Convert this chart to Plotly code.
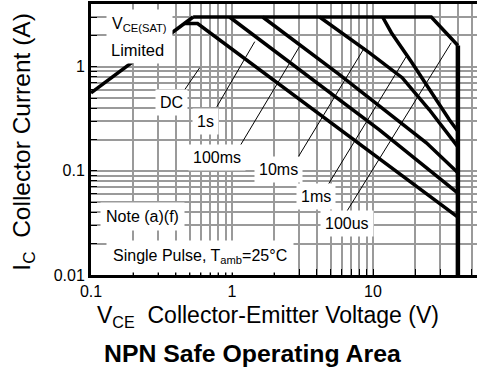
import numpy as np
import plotly.graph_objects as go

# ---- Safe operating area boundaries (VCE in V, IC in A) ----
vsat_v = [0.1, 0.53]
vsat_i = [0.56, 3.0]

dc_v = [0.46, 0.57, 40]
dc_i = [2.6, 2.6, 0.036]

s1_v = [0.96, 11.1, 40]
s1_i = [3.0, 0.248, 0.061]

ms100_v = [1.65, 5.78, 23.9, 40]
ms100_i = [3.0, 0.838, 0.186, 0.096]

ms10_v = [4.18, 9.45, 16.1, 25.1, 40]
ms10_i = [3.0, 1.36, 0.784, 0.386, 0.17]

ms1_v = [11.7, 13.5, 18.7, 34.8, 40]
ms1_i = [3.0, 2.12, 1.117, 0.309, 0.24]

us100_v = [0.53, 25.9, 40]
us100_i = [3.0, 3.0, 1.6]

bv_v = [40, 40]
bv_i = [1.6, 0.01]

# ---- curve labels and their leader lines ----
label_text = ["DC", "1s", "100ms", "10ms", "1ms", "100us"]
label_v = [0.374, 0.652, 0.78, 2.14, 3.97, 6.59]
label_i = [0.451, 0.296, 0.133, 0.102, 0.0562, 0.031]
leader_from_v = [0.462, 0.78, 1.13, 2.87, 4.75, 6.48]
leader_from_i = [0.601, 0.412, 0.170, 0.128, 0.0718, 0.0403]
leader_to_v = [0.59, 1.45, 3.01, 8.69, 17.2, 35.9]
leader_to_i = [0.978, 1.74, 1.56, 1.52, 1.25, 1.70]

# ---- axis ticks ----
x_decades = [0.1, 1, 10]
x_tick_text = ["0.1", "1", "10"]
x_max_grid = 50
y_decades = [0.01, 0.1, 1]
y_tick_text = ["0.01", "0.1", "1"]
y_max_grid = 4

FONT = "Liberation Sans, Arial, sans-serif"


def log_ticks(decades, labels, top):
    vals, text = [], []
    for d, lab in zip(decades, labels):
        for m in range(1, 10):
            v = round(m * d, 6)
            if v > top:
                break
            vals.append(v)
            text.append(lab if m == 1 else "")
    return vals, text


xt_vals, xt_text = log_ticks(x_decades, x_tick_text, x_max_grid)
yt_vals, yt_text = log_ticks(y_decades, y_tick_text, y_max_grid)

fig = go.Figure()

thick = dict(color="black", width=3.5)
for xs, ys in [(vsat_v, vsat_i), (dc_v, dc_i), (s1_v, s1_i), (ms100_v, ms100_i),
               (ms10_v, ms10_i), (ms1_v, ms1_i), (us100_v, us100_i)]:
    fig.add_trace(go.Scatter(x=xs, y=ys, mode="lines", line=thick,
                             hoverinfo="skip"))
fig.add_trace(go.Scatter(x=bv_v, y=bv_i, mode="lines",
                         line=dict(color="black", width=4.5), hoverinfo="skip"))

# thin leader lines from each label to its curve
for fv, fi, tv, ti in zip(leader_from_v, leader_from_i, leader_to_v, leader_to_i):
    fig.add_trace(go.Scatter(x=[fv, tv], y=[fi, ti], mode="lines",
                             line=dict(color="black", width=1), hoverinfo="skip"))

annotations = []
for t, v, i in zip(label_text, label_v, label_i):
    annotations.append(dict(x=np.log10(v), y=np.log10(i), xref="x", yref="y",
                            text=t, showarrow=False, bgcolor="white", borderpad=4,
                            font=dict(family=FONT, size=16, color="black")))

# V_CE(SAT) limited note
annotations.append(dict(x=np.log10(0.127), y=np.log10(2.55), xref="x", yref="y",
                        xanchor="left", text="V<sub>CE(SAT)</sub>", showarrow=False,
                        bgcolor="white", borderpad=5,
                        font=dict(family=FONT, size=16, color="black")))
annotations.append(dict(x=np.log10(0.127), y=np.log10(1.45), xref="x", yref="y",
                        xanchor="left", text="Limited", showarrow=False,
                        bgcolor="white", borderpad=4,
                        font=dict(family=FONT, size=16.5, color="black")))
annotations.append(dict(x=np.log10(0.233), y=np.log10(0.0361), xref="x", yref="y",
                        text="Note (a)(f)", showarrow=False, bgcolor="white",
                        borderpad=5, font=dict(family=FONT, size=16, color="black")))
annotations.append(dict(x=np.log10(0.59), y=np.log10(0.0152), xref="x", yref="y",
                        text="Single Pulse, T<sub>amb</sub>=25°C", showarrow=False,
                        bgcolor="white", borderpad=6,
                        font=dict(family=FONT, size=16, color="black")))

# axis titles and chart title
annotations.append(dict(x=0.459, y=-0.152, xref="paper", yref="paper",
                        text="V<sub>CE</sub>  Collector-Emitter Voltage (V)",
                        showarrow=False, yanchor="middle",
                        font=dict(family=FONT, size=23, color="black")))
annotations.append(dict(x=-0.175, y=0.49, xref="paper", yref="paper",
                        text="I<sub>C</sub>  Collector Current (A)", textangle=-90,
                        showarrow=False, xanchor="center", yanchor="middle",
                        font=dict(family=FONT, size=24.5, color="black")))
annotations.append(dict(x=0.418, y=-0.29, xref="paper", yref="paper",
                        text="<b>NPN Safe Operating Area</b>", showarrow=False,
                        yanchor="middle",
                        font=dict(family=FONT, size=24.8, color="black")))

axis_common = dict(
    type="log", showgrid=True, gridcolor="#9a9a9a", gridwidth=1.5,
    showline=True, linecolor="black", linewidth=3,
    ticks="inside", ticklen=6, tickwidth=1.2, tickcolor="black",
    tickfont=dict(family=FONT, size=16, color="black"),
    zeroline=False,
)

fig.update_layout(
    width=477, height=371,
    margin=dict(l=91, r=0, t=4, b=96),
    paper_bgcolor="white", plot_bgcolor="white",
    showlegend=False,
    annotations=annotations,
    xaxis=dict(axis_common, range=[-1, -1 + 386 / 141], mirror=True,
               tickvals=xt_vals, ticktext=xt_text),
    yaxis=dict(axis_common, range=[-2, np.log10(4)], mirror=False,
               tickvals=yt_vals, ticktext=yt_text),
)

fig.write_html("out.html")
